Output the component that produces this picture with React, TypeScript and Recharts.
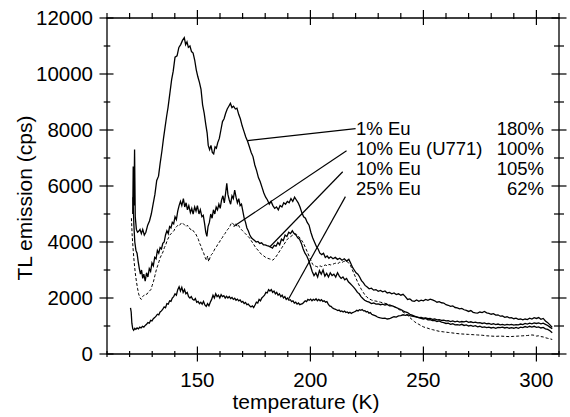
import React from 'react';
import { LineChart, Line, XAxis, YAxis, ReferenceLine, ReferenceDot, ReferenceArea, Label } from 'recharts';

type Pt = [number, number];

// TL glow curves, [temperature (K), emission (cps)]
const eu1: Pt[] = [
  [121.4, 5000], [121.6, 6700], [121.9, 5300], [122.2, 7300], [122.5, 4900], [123.0, 4450], [123.5, 4350], [124.0, 4380],
  [124.6, 4450], [125.2, 4300], [125.8, 4450], [126.5, 4250], [127.2, 4350], [128.0, 4600], [128.8, 4750], [129.6, 5000],
  [130.4, 5350], [131.2, 5700], [132.0, 6200], [132.8, 6350], [133.5, 6800], [134.3, 7250], [135.0, 7700], [135.7, 8100],
  [136.4, 8500], [137.0, 8800], [137.8, 9300], [138.6, 9800], [139.3, 10100], [140.1, 10600], [141.0, 10650], [141.8, 10950],
  [142.6, 11050], [143.4, 11200], [144.2, 11300], [144.8, 11050], [145.4, 11150], [146.0, 10950], [146.7, 11000], [147.4, 10800],
  [148.1, 10750], [148.8, 10500], [149.5, 10150], [150.2, 9900], [150.9, 9700], [151.6, 9450], [152.3, 8900], [153.0, 8600],
  [153.7, 8200], [154.3, 7900], [154.8, 7450], [155.4, 7300], [156.0, 7450], [156.6, 7200], [157.2, 7150], [157.8, 7400],
  [158.4, 7350], [159.0, 7550], [159.7, 7700], [160.4, 8000], [161.1, 8300], [161.8, 8400], [162.5, 8600], [163.2, 8750],
  [163.9, 8850], [164.6, 8950], [165.3, 8800], [166.0, 8850], [166.8, 8750], [167.5, 8780], [168.3, 8550], [169.0, 8400],
  [169.8, 8150], [170.6, 7950], [171.4, 7750], [172.2, 7600], [173.0, 7400], [173.8, 7200], [174.6, 7050], [175.4, 6750],
  [176.2, 6550], [177.0, 6300], [177.8, 6150], [178.6, 5950], [179.4, 5750], [180.2, 5600], [181.0, 5500], [181.8, 5350],
  [182.6, 5450], [183.4, 5300], [184.2, 5200], [185.0, 5250], [185.8, 5150], [186.6, 5300], [187.4, 5250], [188.2, 5400],
  [189.0, 5350], [189.8, 5450], [190.6, 5400], [191.4, 5550], [192.2, 5450], [193.0, 5600], [193.8, 5500], [194.6, 5400],
  [195.4, 5250], [196.2, 5050], [197.0, 4900], [197.8, 4850], [198.6, 4700], [199.4, 4600], [200.2, 4350], [201.0, 4150],
  [201.8, 4000], [202.6, 3850], [203.4, 3750], [204.2, 3600], [205.0, 3550], [205.8, 3600], [206.6, 3450], [207.4, 3500],
  [208.2, 3420], [209.0, 3470], [210.0, 3400], [211.0, 3450], [212.0, 3380], [213.0, 3420], [214.0, 3350], [215.0, 3400],
  [216.0, 3320], [217.0, 3380], [217.8, 3250], [218.6, 3100], [219.4, 3000], [220.2, 2900], [221.0, 2850], [221.8, 2750],
  [222.6, 2620], [223.4, 2550], [224.2, 2450], [225.0, 2400], [226.0, 2330], [227.0, 2350], [228.0, 2280], [229.0, 2300],
  [230.0, 2240], [231.0, 2270], [232.0, 2220], [233.0, 2250], [234.0, 2180], [235.0, 2200], [236.0, 2150], [237.0, 2180],
  [238.0, 2120], [239.0, 2150], [240.0, 2100], [241.0, 2130], [242.0, 2050], [243.0, 1950], [244.0, 1970], [245.0, 1900],
  [246.0, 1880], [247.0, 1930], [248.0, 1880], [249.0, 1920], [250.0, 1900], [251.0, 1950], [252.0, 1920], [253.0, 1960],
  [254.0, 1930], [255.0, 1900], [256.0, 1850], [257.0, 1870], [258.0, 1830], [259.0, 1820], [260.0, 1760], [261.0, 1740],
  [262.0, 1700], [263.0, 1720], [264.0, 1660], [265.0, 1650], [266.0, 1610], [267.0, 1630], [268.0, 1580], [269.0, 1560],
  [270.0, 1520], [271.0, 1550], [272.0, 1490], [273.0, 1470], [274.0, 1460], [275.0, 1500], [276.0, 1480], [277.0, 1520],
  [278.0, 1470], [279.0, 1450], [280.0, 1420], [281.0, 1440], [282.0, 1390], [283.0, 1400], [284.0, 1350], [285.0, 1360],
  [286.0, 1310], [287.0, 1330], [288.0, 1290], [289.0, 1300], [290.0, 1260], [291.0, 1280], [292.0, 1240], [293.0, 1250],
  [294.0, 1220], [295.0, 1250], [296.0, 1230], [297.0, 1280], [298.0, 1250], [299.0, 1300], [300.0, 1270], [301.0, 1300],
  [302.0, 1240], [303.0, 1270], [304.0, 1180], [305.0, 1120], [306.0, 1040], [307.0, 950],
];

const eu10U771: Pt[] = [
  [120.8, 4850], [121.1, 4300], [121.5, 3800], [122.0, 3300], [122.5, 2900], [123.0, 2600], [123.5, 2350], [124.0, 2150],
  [124.6, 2000], [125.2, 1950], [125.8, 2050], [126.4, 2100], [127.0, 2150], [127.6, 2130], [128.2, 2200], [128.8, 2250],
  [129.4, 2300], [130.0, 2450], [130.6, 2600], [131.2, 2800], [131.8, 3000], [132.4, 3150], [133.0, 3300], [133.6, 3450],
  [134.2, 3550], [134.8, 3650], [135.4, 3800], [136.0, 3900], [136.6, 4050], [137.2, 4150], [137.8, 4250], [138.4, 4300],
  [139.0, 4350], [139.6, 4400], [140.2, 4500], [140.8, 4550], [141.4, 4600], [142.0, 4580], [142.6, 4650], [143.2, 4700],
  [143.8, 4650], [144.4, 4600], [145.0, 4550], [145.6, 4600], [146.2, 4500], [146.8, 4480], [147.4, 4400], [148.0, 4420],
  [148.6, 4350], [149.2, 4300], [149.8, 4200], [150.4, 4100], [151.0, 3950], [151.6, 3850], [152.2, 3700], [152.8, 3600],
  [153.4, 3450], [154.0, 3350], [154.5, 3500], [155.0, 3300], [155.6, 3450], [156.2, 3550], [156.8, 3600], [157.4, 3700],
  [158.0, 3800], [158.6, 3850], [159.2, 3950], [159.8, 4000], [160.4, 4100], [161.0, 4150], [161.6, 4250], [162.2, 4300],
  [162.8, 4380], [163.4, 4450], [164.0, 4500], [164.6, 4600], [165.2, 4700], [165.8, 4650], [166.4, 4600], [167.0, 4650],
  [167.6, 4550], [168.2, 4600], [168.8, 4500], [169.4, 4450], [170.0, 4400], [170.6, 4350], [171.2, 4300], [171.8, 4250],
  [172.4, 4200], [173.0, 4150], [173.8, 4050], [174.6, 3950], [175.4, 3850], [176.2, 3750], [177.0, 3700], [177.8, 3600],
  [178.6, 3550], [179.4, 3500], [180.2, 3450], [181.0, 3420], [181.8, 3400], [182.6, 3380], [183.4, 3350], [184.2, 3420],
  [185.0, 3500], [185.8, 3600], [186.6, 3700], [187.4, 3800], [188.2, 3900], [189.0, 4000], [189.8, 4100], [190.6, 4150],
  [191.4, 4200], [192.2, 4250], [193.0, 4300], [193.8, 4280], [194.6, 4200], [195.4, 4150], [196.2, 4050], [197.0, 3950],
  [197.8, 3800], [198.6, 3650], [199.4, 3500], [200.2, 3350], [201.0, 3200], [201.8, 3150], [202.6, 3130], [203.4, 3100],
  [204.2, 3150], [205.0, 3120], [205.8, 3150], [206.6, 3180], [207.4, 3150], [208.2, 3200], [209.0, 3180], [209.8, 3200],
  [210.6, 3230], [211.4, 3250], [212.2, 3230], [213.0, 3280], [213.8, 3260], [214.6, 3300], [215.4, 3320], [216.2, 3300],
  [217.0, 3250], [217.8, 3150], [218.6, 3000], [219.4, 2850], [220.2, 2700], [221.0, 2550], [221.8, 2420], [222.6, 2300],
  [223.4, 2200], [224.2, 2100], [225.0, 2030], [226.0, 1970], [227.0, 1930], [228.0, 1900], [229.0, 1890], [230.0, 1870],
  [231.0, 1850], [232.0, 1830], [233.0, 1810], [234.0, 1790], [235.0, 1760], [236.0, 1730], [237.0, 1700], [238.0, 1650],
  [239.0, 1600], [240.0, 1550], [241.0, 1500], [242.0, 1450], [243.0, 1380], [244.0, 1300], [245.0, 1230], [246.0, 1160],
  [247.0, 1100], [248.0, 1060], [249.0, 1010], [250.0, 970], [251.0, 940], [252.0, 920], [253.0, 890], [254.0, 870],
  [255.0, 850], [256.0, 830], [257.0, 810], [258.0, 800], [259.0, 790], [260.0, 780], [261.0, 770], [262.0, 760],
  [264.0, 740], [266.0, 720], [268.0, 710], [270.0, 700], [272.0, 690], [274.0, 680], [276.0, 670], [278.0, 650],
  [280.0, 640], [282.0, 630], [284.0, 640], [286.0, 630], [288.0, 620], [290.0, 630], [292.0, 640], [294.0, 650],
  [296.0, 660], [298.0, 680], [299.0, 670], [300.0, 640], [301.0, 650], [302.0, 620], [303.0, 610], [304.0, 580],
  [305.0, 560], [306.0, 540], [307.0, 520],
];

const eu10: Pt[] = [
  [121.5, 5600], [121.9, 4600], [122.3, 4000], [122.8, 3700], [123.3, 3600], [123.8, 3300], [124.3, 3050], [124.8, 2850],
  [125.3, 3000], [125.8, 2700], [126.3, 2850], [126.9, 2600], [127.5, 2900], [128.1, 2750], [128.7, 3050], [129.3, 2950],
  [129.9, 3250], [130.5, 3150], [131.1, 3450], [131.7, 3400], [132.3, 3700], [132.9, 3600], [133.5, 3800], [134.1, 3750],
  [134.7, 3950], [135.3, 4000], [135.9, 4250], [136.5, 4400], [137.1, 4300], [137.7, 4550], [138.3, 4500], [138.9, 4700],
  [139.5, 4650], [140.1, 4900], [140.7, 4800], [141.3, 5100], [141.9, 5300], [142.5, 5450], [143.1, 5300], [143.8, 5550],
  [144.4, 5250], [145.0, 5400], [145.6, 5150], [146.2, 5300], [146.9, 5050], [147.5, 5200], [148.1, 5000], [148.8, 5250],
  [149.4, 5100], [150.0, 5300], [150.7, 5000], [151.3, 5150], [152.0, 4900], [152.6, 4950], [153.2, 4650], [153.7, 4350],
  [154.2, 4200], [154.7, 4550], [155.3, 4700], [155.9, 5000], [156.5, 4850], [157.1, 5150], [157.7, 5000], [158.3, 5250],
  [158.9, 5150], [159.5, 5350], [160.1, 5200], [160.7, 5500], [161.3, 5650], [161.9, 5400], [162.5, 5750], [163.0, 6100],
  [163.5, 5700], [164.1, 5500], [164.7, 5350], [165.3, 5650], [165.9, 5550], [166.5, 5850], [167.1, 5600], [167.7, 5400],
  [168.3, 5550], [168.9, 5300], [169.5, 5350], [170.1, 5100], [170.7, 4850], [171.3, 4700], [171.9, 4500], [172.5, 4400],
  [173.2, 4250], [173.9, 4150], [174.6, 4100], [175.3, 4050], [176.0, 4000], [176.8, 4020], [177.6, 3950], [178.4, 3970],
  [179.2, 3900], [180.0, 3900], [180.8, 3870], [181.6, 3850], [182.4, 3820], [183.2, 3780], [184.0, 3880], [184.8, 3850],
  [185.6, 3980], [186.4, 3900], [187.2, 4100], [188.0, 4050], [188.8, 4250], [189.6, 4200], [190.4, 4350], [191.2, 4300],
  [192.0, 4400], [192.8, 4300], [193.6, 4250], [194.4, 4150], [195.2, 4100], [196.0, 3950], [196.8, 3750], [197.6, 3600],
  [198.4, 3500], [199.2, 3350], [200.0, 3150], [200.8, 2950], [201.6, 2800], [202.4, 2900], [203.2, 2750], [204.0, 2980],
  [204.8, 2850], [205.6, 3000], [206.4, 2780], [207.2, 2880], [208.0, 2750], [208.8, 2900], [209.6, 2800], [210.4, 2850],
  [211.2, 2750], [212.0, 2900], [212.8, 2780], [213.6, 2700], [214.4, 2750], [215.2, 2650], [216.0, 2700], [216.8, 2580],
  [217.6, 2520], [218.4, 2450], [219.2, 2380], [220.0, 2300], [220.8, 2200], [221.6, 2150], [222.4, 2050], [223.2, 1980],
  [224.0, 1920], [225.0, 1880], [226.0, 1850], [227.0, 1800], [228.0, 1820], [229.0, 1780], [230.0, 1790], [231.0, 1760],
  [232.0, 1780], [233.0, 1750], [234.0, 1770], [235.0, 1720], [236.0, 1730], [237.0, 1690], [238.0, 1660], [239.0, 1620],
  [240.0, 1590], [241.0, 1540], [242.0, 1500], [243.0, 1480], [244.0, 1420], [245.0, 1390], [246.0, 1350], [247.0, 1330],
  [248.0, 1300], [249.0, 1270], [250.0, 1250], [251.0, 1270], [252.0, 1220], [253.0, 1230], [254.0, 1190], [255.0, 1200],
  [256.0, 1160], [257.0, 1180], [258.0, 1140], [259.0, 1120], [260.0, 1090], [261.0, 1100], [262.0, 1060], [263.0, 1080],
  [264.0, 1040], [265.0, 1050], [266.0, 1030], [267.0, 1060], [268.0, 1020], [269.0, 1040], [270.0, 1000], [271.0, 1020],
  [272.0, 990], [273.0, 1010], [274.0, 970], [275.0, 990], [276.0, 950], [277.0, 970], [278.0, 940], [279.0, 960],
  [280.0, 930], [281.0, 950], [282.0, 920], [283.0, 950], [284.0, 940], [285.0, 960], [286.0, 930], [287.0, 950],
  [288.0, 920], [289.0, 940], [290.0, 920], [291.0, 950], [292.0, 920], [293.0, 960], [294.0, 940], [295.0, 980],
  [296.0, 950], [297.0, 990], [298.0, 960], [299.0, 990], [300.0, 950], [301.0, 970], [302.0, 930], [303.0, 950],
  [304.0, 900], [305.0, 880], [306.0, 830], [307.0, 760],
];

const eu25: Pt[] = [
  [120.4, 1650], [120.7, 1500], [121.0, 1100], [121.4, 900], [121.8, 850], [122.3, 920], [122.8, 880], [123.3, 930],
  [123.9, 900], [124.5, 960], [125.1, 930], [125.7, 990], [126.3, 960], [126.9, 1020], [127.5, 1060], [128.1, 1120],
  [128.7, 1100], [129.3, 1200], [129.9, 1180], [130.5, 1260], [131.1, 1300], [131.7, 1350], [132.3, 1420], [132.9, 1400],
  [133.5, 1500], [134.1, 1540], [134.7, 1600], [135.3, 1680], [135.9, 1650], [136.5, 1800], [137.1, 1780], [137.7, 1900],
  [138.3, 1880], [138.9, 2000], [139.5, 2050], [140.1, 2150], [140.7, 2100], [141.3, 2300], [141.9, 2400], [142.5, 2250],
  [143.1, 2380], [143.7, 2200], [144.3, 2300], [144.9, 2150], [145.5, 2200], [146.1, 2050], [146.7, 2000], [147.3, 2050],
  [147.9, 1950], [148.5, 1920], [149.1, 1980], [149.7, 1850], [150.3, 1880], [150.9, 1800], [151.5, 1850], [152.1, 1780],
  [152.7, 1880], [153.3, 1750], [153.9, 1700], [154.5, 1800], [155.1, 1720], [155.7, 1850], [156.3, 1950], [156.9, 2100],
  [157.5, 2000], [158.1, 2150], [158.7, 2050], [159.3, 2100], [159.9, 2000], [160.5, 2120], [161.1, 2050], [161.7, 2080],
  [162.3, 2000], [162.9, 2060], [163.5, 2000], [164.1, 2050], [164.7, 1980], [165.3, 2020], [165.9, 1950], [166.5, 1990],
  [167.1, 1920], [167.7, 1960], [168.3, 1900], [168.9, 1930], [169.5, 1850], [170.1, 1880], [170.7, 1800], [171.3, 1840],
  [171.9, 1760], [172.5, 1780], [173.1, 1720], [173.7, 1680], [174.3, 1720], [174.9, 1660], [175.5, 1750], [176.1, 1850],
  [176.7, 1820], [177.3, 1950], [177.9, 1900], [178.5, 2000], [179.1, 2050], [179.7, 2100], [180.3, 2200], [180.9, 2180],
  [181.5, 2300], [182.1, 2250], [182.7, 2300], [183.3, 2200], [183.9, 2250], [184.5, 2150], [185.1, 2200], [185.7, 2100],
  [186.3, 2150], [186.9, 2050], [187.5, 2100], [188.1, 2000], [188.7, 2050], [189.3, 1950], [189.9, 2000], [190.5, 1920],
  [191.1, 1940], [191.7, 1870], [192.3, 1900], [192.9, 1820], [193.5, 1850], [194.1, 1780], [194.7, 1820], [195.3, 1760],
  [195.9, 1780], [196.5, 1800], [197.1, 1850], [197.7, 1900], [198.3, 1870], [198.9, 1950], [199.5, 1920], [200.1, 1960],
  [200.7, 1900], [201.3, 1950], [201.9, 1920], [202.5, 1970], [203.1, 1900], [203.7, 1950], [204.3, 1900], [204.9, 1940],
  [205.5, 1880], [206.1, 1900], [206.7, 1850], [207.3, 1870], [207.9, 1780], [208.5, 1720], [209.1, 1700], [209.7, 1650],
  [210.3, 1620], [210.9, 1600], [211.5, 1580], [212.1, 1550], [212.7, 1570], [213.3, 1520], [213.9, 1540], [214.5, 1500],
  [215.1, 1530], [215.7, 1480], [216.3, 1500], [216.9, 1460], [217.5, 1490], [218.1, 1450], [218.7, 1480], [219.3, 1500],
  [219.9, 1520], [220.5, 1560], [221.1, 1540], [221.7, 1580], [222.3, 1560], [222.9, 1590], [223.5, 1540], [224.1, 1550],
  [224.7, 1500], [225.3, 1520], [225.9, 1460], [226.5, 1480], [227.1, 1420], [227.7, 1400], [228.3, 1380], [228.9, 1360],
  [229.5, 1330], [230.1, 1310], [231.0, 1290], [232.0, 1270], [233.0, 1280], [234.0, 1250], [235.0, 1260], [236.0, 1300],
  [237.0, 1330], [238.0, 1320], [239.0, 1360], [240.0, 1370], [241.0, 1400], [242.0, 1380], [243.0, 1400], [244.0, 1370],
  [245.0, 1350], [246.0, 1340], [247.0, 1320], [248.0, 1300], [249.0, 1310], [250.0, 1280], [251.0, 1290], [252.0, 1260],
  [253.0, 1270], [254.0, 1240], [255.0, 1250], [256.0, 1220], [257.0, 1230], [258.0, 1200], [259.0, 1210], [260.0, 1180],
  [261.0, 1190], [262.0, 1160], [263.0, 1180], [264.0, 1150], [265.0, 1170], [266.0, 1140], [267.0, 1160], [268.0, 1150],
  [269.0, 1170], [270.0, 1130], [271.0, 1150], [272.0, 1120], [273.0, 1140], [274.0, 1110], [275.0, 1120], [276.0, 1090],
  [277.0, 1110], [278.0, 1080], [279.0, 1090], [280.0, 1060], [281.0, 1080], [282.0, 1050], [283.0, 1070], [284.0, 1040],
  [285.0, 1060], [286.0, 1030], [287.0, 1060], [288.0, 1040], [289.0, 1060], [290.0, 1030], [291.0, 1050], [292.0, 1040],
  [293.0, 1070], [294.0, 1050], [295.0, 1090], [296.0, 1070], [297.0, 1100], [298.0, 1080], [299.0, 1110], [300.0, 1090],
  [301.0, 1110], [302.0, 1080], [303.0, 1100], [304.0, 1060], [305.0, 1020], [306.0, 960], [307.0, 900],
];

const sampleNames = ['1% Eu', '10% Eu (U771)', '10% Eu', '25% Eu'];
const relIntensity = ['180%', '100%', '105%', '62%'];

const xTicks = [110, 120, 130, 140, 150, 160, 170, 180, 190, 200, 210, 220, 230, 240, 250, 260, 270, 280, 290, 300, 310];
const yTicks = [0, 1000, 2000, 3000, 4000, 5000, 6000, 7000, 8000, 9000, 10000, 11000, 12000];

// annotation placement in data units: text rows and leader lines (curve point -> text)
const textLeftK = 220.2;
const textRightK = 303.4;
const rowCps = [8070, 7350, 6640, 5930];
const leaders: [Pt, Pt][] = [
  [[172.3, 7620], [220.0, 8050]],
  [[166.0, 4550], [216.0, 7260]],
  [[182.1, 3830], [214.3, 6510]],
  [[190.4, 1975], [215.5, 5620]],
];

const X_MIN = 110;
const X_MAX = 310;
const Y_MIN = 0;
const Y_MAX = 12000;

const FONT = "'Liberation Sans', Arial, Helvetica, sans-serif";
const INK = '#000';
const TICK_W = 1.2;

const toRows = (pts: Pt[]) => pts.map(([t, v]) => ({ t, v }));

// tick marks crossing the frame; out/inn are px lengths, (dx, dy) points away from the plot
type TickMark = { x: number; y: number; dx: number; dy: number; out: number; inn: number };
const tickMarks: TickMark[] = [
  ...xTicks.map((t) => ({ x: t, y: Y_MIN, dx: 0, dy: 1, out: t % 50 === 0 ? 7.5 : 3, inn: t % 50 === 0 ? 7.5 : 3 })),
  ...xTicks.map((t) => ({ x: t, y: Y_MAX, dx: 0, dy: -1, out: t % 50 === 0 ? 8 : 5, inn: t % 50 === 0 ? 7 : 1 })),
  ...yTicks.map((v) => ({ x: X_MIN, y: v, dx: -1, dy: 0, out: v % 2000 === 0 ? 7.5 : 3.3, inn: v % 2000 === 0 ? 6.5 : 3.3 })),
  ...yTicks.map((v) => ({ x: X_MAX, y: v, dx: 1, dy: 0, out: v % 2000 === 0 ? 7.5 : 5, inn: v % 2000 === 0 ? 7.5 : 5 })),
];

// each tick is a thin filled rect so it always has a non-empty box
const tickShape = (m: TickMark) => (p: any) => {
  const x1 = p.cx + m.dx * m.out;
  const x2 = p.cx - m.dx * m.inn;
  const y1 = p.cy + m.dy * m.out;
  const y2 = p.cy - m.dy * m.inn;
  const vertical = m.dx === 0;
  return (
    <rect
      x={vertical ? p.cx - TICK_W / 2 : Math.min(x1, x2)}
      y={vertical ? Math.min(y1, y2) : p.cy - TICK_W / 2}
      width={vertical ? TICK_W : Math.abs(x1 - x2)}
      height={vertical ? Math.abs(y1 - y2) : TICK_W}
      fill={INK}
    />
  );
};

const BottomTick = (p: any) =>
  p.payload.value % 50 === 0 ? (
    <text x={p.x} y={p.y + 31} textAnchor="middle" fontSize={20.5} fontFamily={FONT} fill={INK}>
      {p.payload.value}
    </text>
  ) : (
    <g />
  );

const LeftTick = (p: any) =>
  p.payload.value % 2000 === 0 ? (
    <text x={p.x - 12} y={p.y} dy="0.36em" textAnchor="end" fontSize={20.5} fontFamily={FONT} fill={INK}>
      {p.payload.value}
    </text>
  ) : (
    <g />
  );

const rowText = (text: string, anchor: 'start' | 'end') => (p: any) => (
  <text x={p.cx} y={p.cy} dy="0.36em" textAnchor={anchor} fontSize={18.5} fontFamily={FONT} fill={INK}>
    {text}
  </text>
);

export default function App() {
  return (
    <div style={{ position: 'absolute', left: 0, top: 0, background: '#fff' }}>
      <LineChart width={570} height={417} margin={{ top: 18, right: 11, bottom: 0, left: 0 }}>
        <XAxis
          type="number"
          dataKey="t"
          domain={[X_MIN, X_MAX]}
          ticks={xTicks}
          interval={0}
          height={63}
          tickSize={0}
          tickLine={false}
          axisLine={false}
          tick={<BottomTick />}
        >
          <Label
            content={() => (
              <text x={306} y={409} textAnchor="middle" fontSize={21} fontFamily={FONT} fill={INK}>
                temperature (K)
              </text>
            )}
          />
        </XAxis>
        <YAxis
          type="number"
          domain={[Y_MIN, Y_MAX]}
          ticks={yTicks}
          interval={0}
          width={107}
          tickSize={0}
          tickLine={false}
          axisLine={false}
          tick={<LeftTick />}
        >
          <Label
            content={() => (
              <text
                x={31.5}
                y={198}
                transform="rotate(-90 31.5 198)"
                textAnchor="middle"
                fontSize={21}
                fontFamily={FONT}
                fill={INK}
              >
                TL emission (cps)
              </text>
            )}
          />
        </YAxis>

        <Line data={toRows(eu1)} dataKey="v" type="linear" stroke={INK} strokeWidth={1.3} dot={false} isAnimationActive={false} />
        <Line data={toRows(eu10U771)} dataKey="v" type="linear" stroke={INK} strokeWidth={1} strokeDasharray="3 2" dot={false} isAnimationActive={false} />
        <Line data={toRows(eu10)} dataKey="v" type="linear" stroke={INK} strokeWidth={1.3} dot={false} isAnimationActive={false} />
        <Line data={toRows(eu25)} dataKey="v" type="linear" stroke={INK} strokeWidth={1.3} dot={false} isAnimationActive={false} />

        {/* plot frame */}
        <ReferenceArea x1={X_MIN} x2={X_MAX} y1={Y_MIN} y2={Y_MAX} fill="none" fillOpacity={0} stroke={INK} strokeWidth={1.3} strokeOpacity={1} />
        {tickMarks.map((m, i) => (
          <ReferenceDot key={`tick-${i}`} x={m.x} y={m.y} r={0} shape={tickShape(m)} />
        ))}

        {leaders.map(([a, b], i) => (
          <ReferenceLine
            key={`leader-${i}`}
            segment={[{ x: a[0], y: a[1] }, { x: b[0], y: b[1] }]}
            stroke={INK}
            strokeWidth={1.2}
          />
        ))}
        {sampleNames.map((name, i) => (
          <ReferenceDot key={`name-${i}`} x={textLeftK} y={rowCps[i]} r={0} shape={rowText(name, 'start')} />
        ))}
        {relIntensity.map((rel, i) => (
          <ReferenceDot key={`rel-${i}`} x={textRightK} y={rowCps[i]} r={0} shape={rowText(rel, 'end')} />
        ))}
      </LineChart>
    </div>
  );
}
